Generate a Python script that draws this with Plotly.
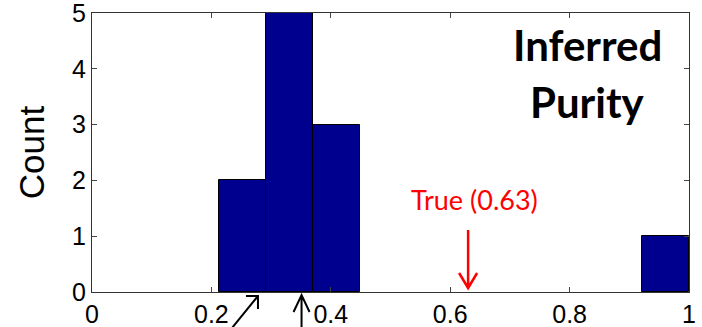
import plotly.graph_objects as go

# ---- data ----
bin_edges = [0.2128, 0.2915, 0.3702, 0.4489, 0.5276, 0.6064, 0.6851, 0.7638, 0.8425, 0.9213, 1.0]
counts = [2, 5, 3, 0, 0, 0, 0, 0, 0, 1]
x_ticks = [0, 0.2, 0.4, 0.6, 0.8, 1]
x_tick_labels = ["0", "0.2", "0.4", "0.6", "0.8", "1"]
y_ticks = [0, 1, 2, 3, 4, 5]
true_purity = 0.63
marker_a = 0.278
marker_b = 0.351

centers = [(bin_edges[i] + bin_edges[i + 1]) / 2 for i in range(len(counts))]
widths = [bin_edges[i + 1] - bin_edges[i] for i in range(len(counts))]
bx = [c for c, n in zip(centers, counts) if n > 0]
bw = [w for w, n in zip(widths, counts) if n > 0]
by = [n for n in counts if n > 0]

fig = go.Figure()
fig.add_trace(go.Bar(
    x=bx, y=by, width=bw,
    marker=dict(color="#00008F", line=dict(color="black", width=1)),
    showlegend=False, hoverinfo="skip",
))

axis_common = dict(
    showgrid=False, zeroline=False, ticks="inside", ticklen=5, tickcolor="#444",
    showline=True, linecolor="#333", linewidth=1, mirror="allticks", automargin=False,
    ticklabeloverflow="allow",
)
fig.update_xaxes(range=[0, 1], tickvals=x_ticks, ticktext=x_tick_labels,
                 tickfont=dict(family="Liberation Sans", size=25, color="black"),
                 **axis_common)
fig.update_yaxes(range=[0, 5], tickvals=y_ticks,
                 tickfont=dict(family="Liberation Sans", size=25, color="black"),
                 title=dict(text="Count", font=dict(family="Liberation Sans", size=35, color="black"), standoff=16),
                 **axis_common)

# Title-like labels
fig.add_annotation(xref="paper", yref="paper", x=0.83, y=1.0, xanchor="center", yanchor="middle",
                   yshift=-32, text="<b>Inferred</b>", showarrow=False,
                   font=dict(family="Lato", size=42, color="black"))
fig.add_annotation(xref="paper", yref="paper", x=0.83, y=1.0, xanchor="center", yanchor="middle",
                   yshift=-89, text="<b>Purity</b>", showarrow=False,
                   font=dict(family="Lato", size=42, color="black"))
fig.add_annotation(xref="x", yref="paper", x=true_purity + 0.01, y=0, xanchor="center", yanchor="middle",
                   yshift=93, text=f"True ({true_purity})", showarrow=False,
                   font=dict(family="Lato", size=27, color="red"))

def arrow(x, path, color, w):
    fig.add_shape(type="path", xref="paper", yref="paper", xsizemode="pixel", ysizemode="pixel",
                  xanchor=x, yanchor=0, path=path, line=dict(color=color, width=w))

# red arrow (down)
arrow(true_purity, "M0,62 L0,4 M-9,19 L0,4 L9,19", "red", 2.5)
# diagonal black arrow
arrow(marker_a, "M-26,-36 L0,-4 M-12,-4 L0,-4 L0,-17", "black", 2)
# vertical black arrow
arrow(marker_b, "M0,-40 L0,-3 M-8,-20 L0,-3 L8,-20", "black", 2)

fig.update_layout(
    width=702, height=327,
    margin=dict(l=92, r=13, t=13, b=35),
    plot_bgcolor="white", paper_bgcolor="white",
    bargap=0,
)
fig.write_html("out.html", config={"displayModeBar": False},
               post_script="document.body.style.margin='0';document.body.style.overflow='hidden';")
